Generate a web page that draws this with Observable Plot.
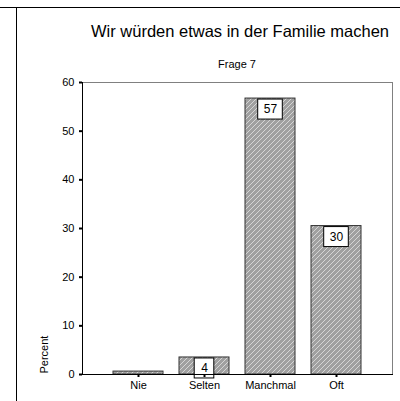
<!DOCTYPE html>
<html><head><meta charset="utf-8">
<script src="https://cdn.jsdelivr.net/npm/d3@7"></script>
<script src="https://cdn.jsdelivr.net/npm/@observablehq/plot@0.6"></script>
<style>
body{margin:0;background:#fff;font-family:"Liberation Sans",Arial,sans-serif;}
#wrap{position:relative;width:400px;height:401px;overflow:hidden;background:#fff}
.hline{position:absolute;left:0;top:7px;width:400px;height:0;border-top:1.5px solid #000}
.vline{position:absolute;left:16px;top:7px;width:0;height:400px;border-left:1.5px solid #000}
#title{position:absolute;left:40px;width:400px;top:22px;text-align:center;font-size:16.5px;line-height:18px;color:#000}
#sub{position:absolute;left:37px;width:400px;top:58px;text-align:center;font-size:11px;line-height:13px;color:#000}
#chart{position:absolute;left:0;top:0}
</style></head><body>
<div id="wrap">
<div id="chart"></div>
<div class="hline"></div><div class="vline"></div>
<div id="title">Wir würden etwas in der Familie machen</div>
<div id="sub">Frage 7</div>
</div>
<script>
const categories = ["Nie", "Selten", "Manchmal", "Oft"];
const percents = [0.6, 3.5, 56.7, 30.5];
const labels = ["", "4", "57", "30"];
const yTicks = [0, 10, 20, 30, 40, 50, 60];
const yTitle = "Percent";

const data = categories.map((c, i) => ({cat: c, value: percents[i], label: labels[i]}));
const two = data.filter(d => d.label.length === 2);
const one = data.filter(d => d.label.length === 1);
const labeled = data.filter(d => d.label !== "");

const hatch = () => {
  const ns = "http://www.w3.org/2000/svg";
  const g = document.createElementNS(ns, "g");
  g.innerHTML = `<defs><pattern id="hatch" patternUnits="userSpaceOnUse" width="5" height="5">
    <rect width="5" height="5" fill="#a0a0a0"/>
    <path d="M-1,1 l2,-2 M0,5 l5,-5 M4,6 l2,-2" stroke="#d6d6d6" stroke-width="1"/>
  </pattern></defs>`;
  return g;
};

const chart = Plot.plot({
  width: 400,
  height: 401,
  marginTop: 82,
  marginBottom: 27,
  marginLeft: 82,
  marginRight: 8,
  style: {fontFamily: '"Liberation Sans", Arial, sans-serif', fontSize: "11px", color: "#000", background: "transparent"},
  x: {domain: categories, padding: 0.24, insetLeft: 15, insetRight: 14, label: null},
  y: {domain: [0, 60], label: null},
  marks: [
    hatch,
    Plot.frame({stroke: "#808080"}),
    Plot.barY(data, {x: "cat", y: "value", fill: "url(#hatch)", stroke: "#333", strokeWidth: 1}),
    Plot.barY(two, {x: "cat", y1: "value", y2: "value", insetTop: 1, insetBottom: -21, insetLeft: 12.7, insetRight: 12.7, fill: "white", stroke: "black", strokeWidth: 1}),
    Plot.barY(one, {x: "cat", y1: "value", y2: "value", insetTop: 1, insetBottom: -21, insetLeft: 15.2, insetRight: 15.2, fill: "white", stroke: "black", strokeWidth: 1}),
    Plot.text(labeled, {x: "cat", y: "value", text: "label", dy: 11, fontSize: 12, fill: "black", lineAnchor: "middle"}),
    Plot.frame({anchor: "left", stroke: "black"}),
    Plot.frame({anchor: "bottom", stroke: "black"}),
    Plot.axisY({ticks: yTicks, tickSize: 3, tickPadding: 5, strokeWidth: 2, label: null, fontSize: 11}),
    Plot.axisX({tickSize: 3, tickPadding: 4, strokeWidth: 2, label: null, fontSize: 11}),
    Plot.text([yTitle], {frameAnchor: "bottom-left", rotate: -90, dx: -38, dy: -1, textAnchor: "start", lineAnchor: "middle", fontSize: 11, fill: "black"})
  ]
});
document.getElementById("chart").appendChild(chart);
</script>
</body></html>
